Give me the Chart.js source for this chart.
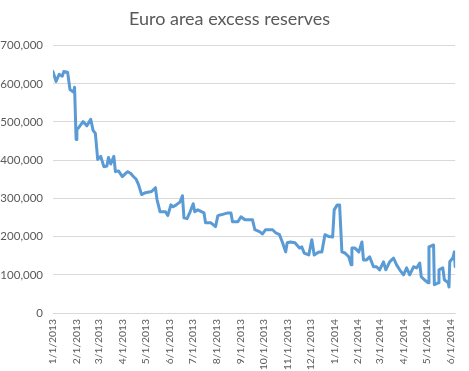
<!DOCTYPE html>
<html>
<head>
<meta charset="utf-8">
<script src="https://cdn.jsdelivr.net/npm/chart.js@4"></script>
<style>
  html, body { margin: 0; padding: 0; background: #ffffff; }
</style>
</head>
<body>
<canvas id="myChart" width="469" height="371"></canvas>
<script>
// values (millions of euro)
var dates = ['1/1/2013', '1/5/2013', '1/9/2013', '1/13/2013', '1/15/2013', '1/20/2013', '1/23/2013', '1/28/2013', '1/29/2013', '1/31/2013',
	'2/1/2013', '2/4/2013', '2/9/2013', '2/14/2013', '2/19/2013', '2/22/2013', '2/25/2013', '2/28/2013',
	'3/4/2013', '3/8/2013', '3/12/2013', '3/14/2013', '3/17/2013', '3/21/2013', '3/23/2013', '3/27/2013',
	'4/1/2013', '4/5/2013', '4/8/2013', '4/12/2013', '4/15/2013', '4/19/2013', '4/22/2013', '4/26/2013',
	'5/1/2013', '5/9/2013', '5/14/2013', '5/16/2013', '5/20/2013', '5/27/2013', '5/30/2013',
	'6/3/2013', '6/6/2013', '6/10/2013', '6/15/2013', '6/18/2013', '6/20/2013', '6/24/2013', '6/28/2013',
	'7/2/2013', '7/4/2013', '7/8/2013', '7/16/2013', '7/18/2013', '7/25/2013', '7/31/2013',
	'8/3/2013', '8/7/2013', '8/16/2013', '8/20/2013', '8/22/2013', '8/29/2013',
	'9/2/2013', '9/7/2013', '9/11/2013', '9/17/2013', '9/20/2013', '9/26/2013', '9/30/2013',
	'10/4/2013', '10/9/2013', '10/13/2013', '10/17/2013', '10/22/2013', '10/26/2013', '10/30/2013',
	'11/1/2013', '11/5/2013', '11/11/2013', '11/17/2013', '11/20/2013', '11/23/2013', '11/29/2013',
	'12/3/2013', '12/6/2013', '12/12/2013', '12/16/2013', '12/20/2013', '12/25/2013', '12/30/2013',
	'1/1/2014', '1/5/2014', '1/8/2014', '1/11/2014', '1/15/2014', '1/20/2014', '1/23/2014', '1/24/2014', '1/28/2014',
	'2/2/2014', '2/6/2014', '2/8/2014', '2/12/2014', '2/16/2014', '2/21/2014', '2/25/2014',
	'3/1/2014', '3/6/2014', '3/9/2014', '3/14/2014', '3/19/2014', '3/23/2014', '3/27/2014',
	'4/1/2014', '4/5/2014', '4/9/2014', '4/14/2014', '4/18/2014', '4/22/2014', '4/24/2014', '4/28/2014',
	'5/3/2014', '5/4/2014', '5/10/2014', '5/11/2014', '5/16/2014', '5/17/2014', '5/22/2014', '5/24/2014', '5/29/2014', '5/30/2014', '5/31/2014',
	'6/4/2014', '6/6/2014', '6/7/2014'];

var reserves = [632000, 606000, 625000, 620000, 632000, 630000, 585000, 578000, 591000, 454000,
	480000, 487000, 501000, 490000, 507000, 478000, 470000, 402000,
	410000, 383000, 385000, 407000, 390000, 410000, 370000, 372000,
	357000, 365000, 370000, 365000, 358000, 350000, 336000, 310000,
	315000, 318000, 328000, 297000, 265000, 265000, 255000,
	283000, 278000, 283000, 291000, 307000, 249000, 247000, 265000,
	286000, 265000, 270000, 262000, 236000, 236000, 226000,
	255000, 257000, 262000, 262000, 239000, 239000,
	252000, 244000, 244000, 244000, 218000, 213000, 207000,
	218000, 218000, 218000, 210000, 205000, 184000, 160000,
	184000, 186000, 184000, 170000, 173000, 157000, 152000,
	192000, 152000, 160000, 160000, 205000, 200000, 199000,
	270000, 283000, 283000, 160000, 157000, 147000, 126000, 170000, 170000,
	160000, 186000, 139000, 139000, 147000, 121000, 121000,
	113000, 134000, 113000, 134000, 144000, 126000, 113000,
	100000, 118000, 100000, 121000, 118000, 131000, 95000, 87000,
	79000, 173000, 178000, 74000, 79000, 113000, 118000, 87000, 79000, 68000, 134000,
	144000, 160000, 121000];

var tickLabels = ['1/1/2013', '2/1/2013', '3/1/2013', '4/1/2013', '5/1/2013', '6/1/2013', '7/1/2013', '8/1/2013', '9/1/2013',
	'10/1/2013', '11/1/2013', '12/1/2013', '1/1/2014', '2/1/2014', '3/1/2014', '4/1/2014', '5/1/2014', '6/1/2014'];

// days counted from the first date
function dayOf(s) {
	var p = s.split('/').map(Number);
	return (Date.UTC(p[2], p[0] - 1, p[1]) - Date.UTC(2013, 0, 1)) / 86400000;
}

var points = dates.map(function (d, i) { return { x: dayOf(d), y: reserves[i] }; });
var tickDays = tickLabels.map(dayOf);

var ctx = document.getElementById('myChart').getContext('2d');
var chart = new Chart(ctx, {
	type: 'line',
	data: {
		datasets: [{
			label: 'Excess reserves',
			data: points,
			borderColor: '#5B9BD5',
			backgroundColor: '#5B9BD5',
			borderWidth: 3,
			pointRadius: 0,
			tension: 0,
			borderJoinStyle: 'round',
			borderCapStyle: 'round'
		}]
	},
	options: {
		responsive: false,
		animation: false,
		layout: { padding: { left: 0, right: 10, top: 0, bottom: 0 } },
		plugins: {
			legend: { display: false },
			tooltip: { enabled: false },
			title: {
				display: true,
				text: 'Euro area excess reserves',
				color: '#595959',
				font: { family: 'Lato', size: 18, weight: 'normal' },
				padding: { top: 8, bottom: 16 }
			}
		},
		scales: {
			x: {
				type: 'linear',
				min: 0,
				max: dayOf(dates[dates.length - 1]),
				afterBuildTicks: function (scale) {
					scale.ticks = tickDays.map(function (v) { return { value: v }; });
				},
				afterFit: function (scale) { scale.height = 58; },
				grid: { display: false, drawTicks: false },
				border: { display: true, color: '#d9d9d9' },
				ticks: {
					autoSkip: false,
					maxRotation: 90,
					minRotation: 90,
					padding: 6,
					color: '#595959',
					font: { family: 'Lato', size: 10.3 },
					callback: function (value, index) { return tickLabels[index]; }
				}
			},
			y: {
				min: 0,
				max: 700000,
				afterFit: function (scale) { scale.width = 53; },
				grid: { color: '#d9d9d9', drawTicks: false },
				border: { display: false },
				ticks: {
					stepSize: 100000,
					padding: 10,
					color: '#595959',
					font: { family: 'Lato', size: 11.5 },
					callback: function (value) { return value.toLocaleString('en-US'); }
				}
			}
		}
	}
});
</script>
</body>
</html>
